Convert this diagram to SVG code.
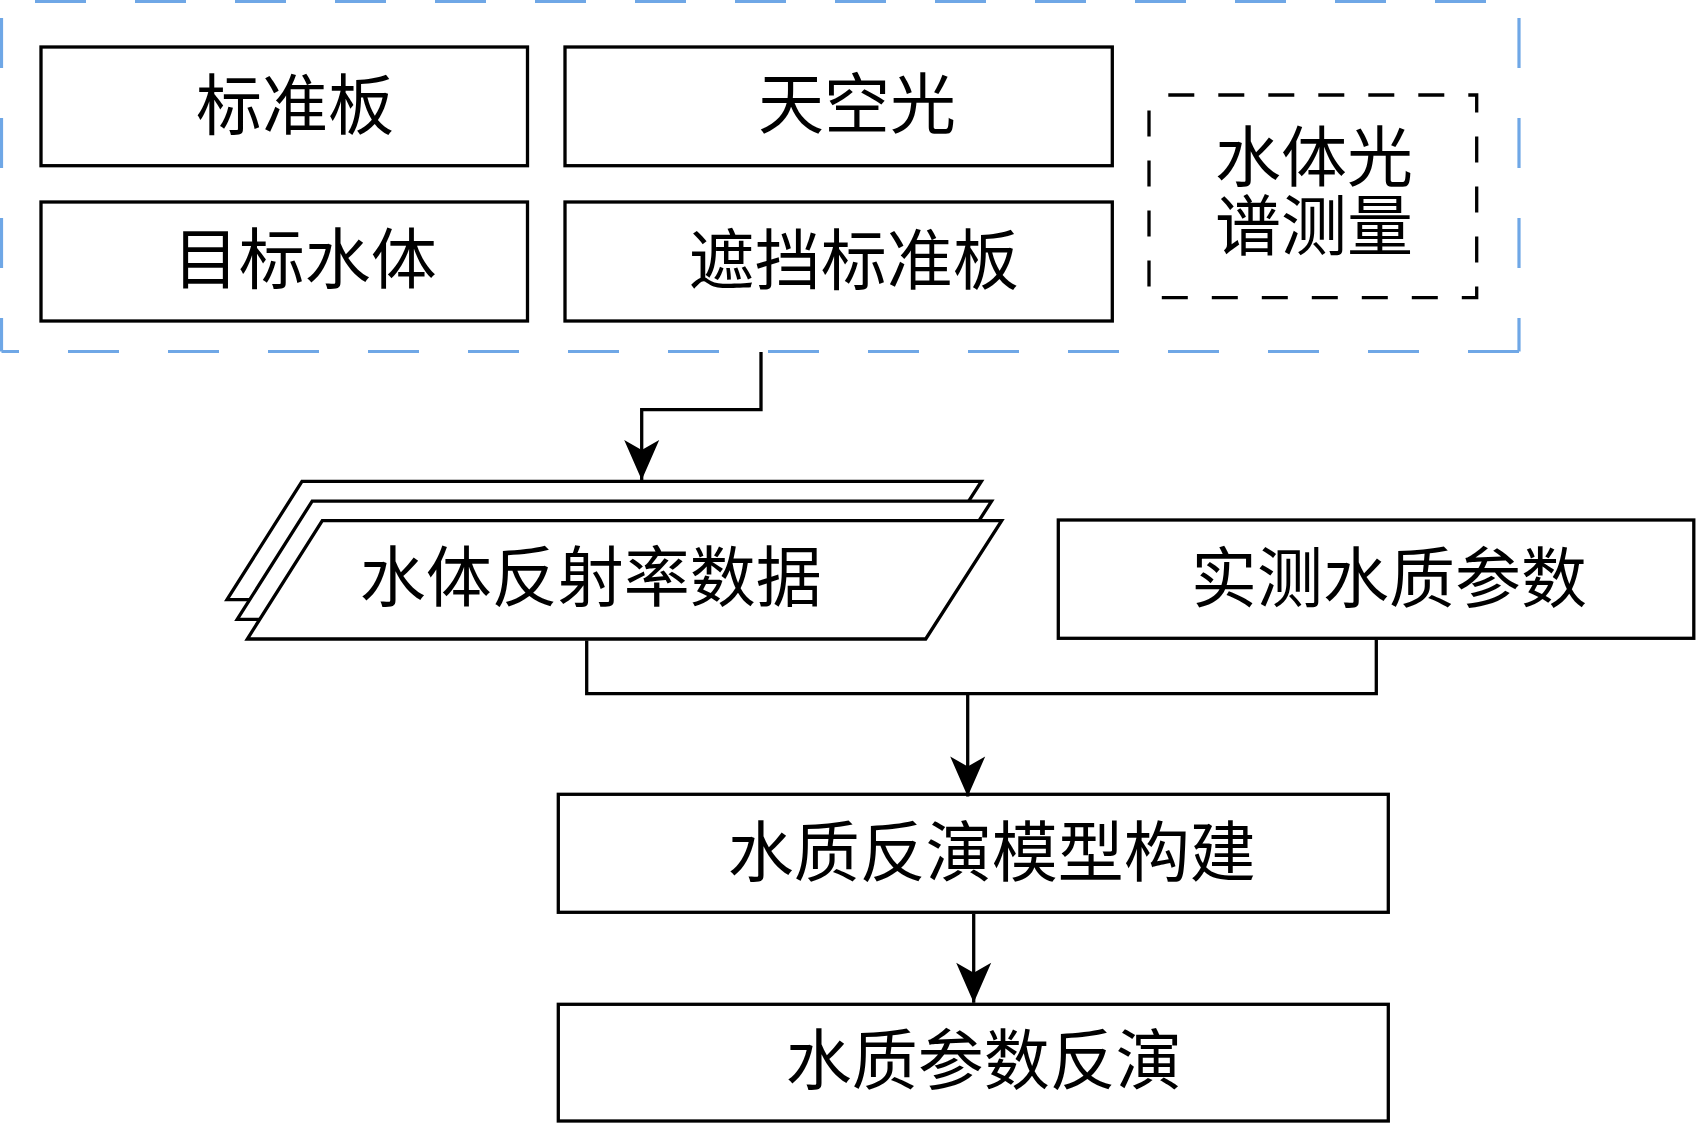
<svg xmlns="http://www.w3.org/2000/svg" width="1697" height="1125" viewBox="0 0 1697 1125">
<style>
.box{fill:#fff;stroke:#000;stroke-width:3.3}
.lbl{font-family:"Noto Sans CJK SC","Liberation Serif",sans-serif;font-size:66px;fill:#000;text-anchor:middle}
.blue{stroke:#6fa7e6;stroke-width:3.2;fill:none}
.conn{fill:none;stroke:#000;stroke-width:3.3}
</style>
<defs>
<marker id="arr" markerUnits="userSpaceOnUse" viewBox="-42 -20 44 40" markerWidth="44" markerHeight="40" refX="0" refY="0" orient="auto">
<path d="M0,0 L-40,-17.5 L-30,0 L-40,17.5 Z" fill="#000"/>
</marker>
</defs>
<rect width="1697" height="1125" fill="#fff"/>

<g id="group-measurement">
<line class="blue" x1="1.5" y1="1.5" x2="1519" y2="1.5" stroke-dasharray="51 49" stroke-dashoffset="66.5"/>
<line class="blue" x1="1.5" y1="1.5" x2="1.5" y2="351.5" stroke-dasharray="50 50" stroke-dashoffset="83.5"/>
<line class="blue" x1="1519" y1="1.5" x2="1519" y2="351.5" stroke-dasharray="50 50" stroke-dashoffset="83.5"/>
<line class="blue" x1="1.5" y1="351.5" x2="1519" y2="351.5" stroke-dasharray="51 49" stroke-dashoffset="33.5"/>
</g>

<g id="node-biaozhunban">
<rect class="box" x="41" y="47" width="486.5" height="118.7"/>
<text class="lbl" x="295" y="128.5">标准板</text>
</g>
<g id="node-tiankongguang">
<rect class="box" x="565" y="47" width="547.3" height="118.7"/>
<text class="lbl" x="857" y="128">天空光</text>
</g>
<g id="node-mubiaoshuiti">
<rect class="box" x="41" y="202" width="486.5" height="119"/>
<text class="lbl" x="304.7" y="282.7">目标水体</text>
</g>
<g id="node-zhedang">
<rect class="box" x="565" y="202" width="547.3" height="119"/>
<text class="lbl" x="853.7" y="283.5">遮挡标准板</text>
</g>
<g id="node-spectrum">
<rect x="1149" y="95" width="327.7" height="202.7" fill="none" stroke="#000" stroke-width="3.3" stroke-dasharray="26 24" stroke-dashoffset="30.7"/>
<text class="lbl"><tspan x="1314" y="180.7">水体光</tspan><tspan x="1314" y="249.8">谱测量</tspan></text>
</g>

<g id="node-reflectance">
<polygon class="box" stroke-width="3" points="302,481.3 981.4,481.3 905.4,599.6 227,599.6"/>
<polygon class="box" stroke-width="3" points="312.2,501.1 991.6,501.1 915.6,619.4 237.2,619.4"/>
<polygon class="box" stroke-width="3" points="322.3,520.7 1001.7,520.7 925.7,639 247.3,639"/>
<text class="lbl" x="590.8" y="601">水体反射率数据</text>
</g>

<g id="node-measured">
<rect class="box" x="1058.3" y="520" width="635.5" height="118.3"/>
<text class="lbl" x="1389" y="602">实测水质参数</text>
</g>

<g id="node-model">
<rect class="box" x="558.3" y="794.3" width="830" height="118"/>
<text class="lbl" x="991.7" y="875.7">水质反演模型构建</text>
</g>

<g id="node-inversion">
<rect class="box" x="558.3" y="1004.3" width="830" height="116.7"/>
<text class="lbl" x="983.7" y="1084">水质参数反演</text>
</g>

<g id="connectors">
<path class="conn" d="M761,352 V409.7 H641.7 V480" marker-end="url(#arr)"/>
<path class="conn" d="M586.7,640.5 V693.7 H1376.3 V639.8"/>
<path class="conn" d="M967.7,693.7 V796.5" marker-end="url(#arr)"/>
<path class="conn" d="M973.7,914 V1002.8" marker-end="url(#arr)"/>
</g>
</svg>
